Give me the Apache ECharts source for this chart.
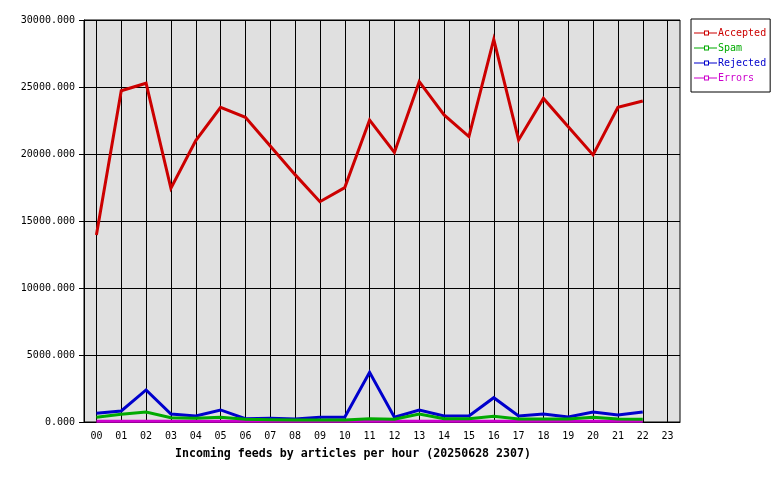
<!DOCTYPE html>
<html>
<head>
<meta charset="utf-8">
<script src="https://cdn.jsdelivr.net/npm/echarts@6/dist/echarts.min.js"></script>
<style>html,body{margin:0;padding:0;background:#fff;}#c{width:780px;height:480px;}</style>
</head>
<body>
<div id="c"></div>
<script>
const hours = ['00','01','02','03','04','05','06','07','08','09','10','11','12','13','14','15','16','17','18','19','20','21','22','23'];
const accepted = [13950,24720,25280,17440,21000,23480,22740,20600,18460,16440,17490,22540,20120,25400,22910,21300,28560,21050,24150,22040,19930,23480,23950];
const spam = [350,570,750,320,275,350,200,160,150,150,150,250,200,600,250,250,420,230,230,230,350,230,200];
const rejected = [650,820,2390,600,450,900,250,280,225,350,350,3710,350,900,450,450,1815,450,600,375,750,520,750];
const errors = [60,60,60,60,60,60,60,60,60,60,60,60,60,60,60,60,60,60,60,60,60,60,60];
const yTicks = [0,5000,10000,15000,20000,25000,30000];
const titleText = 'Incoming feeds by articles per hour (20250628 2307)';

const names = ['Accepted','Spam','Rejected','Errors'];
const colors = ['#cc0000','#00aa00','#0000cc','#cc00cc'];
const datas = [accepted, spam, rejected, errors];
const mono = 'DejaVu Sans Mono';

const legendIcon = 'path://M0,3h10v1h-10z M15,3h8v1h-8z M10,1h5v1h-5z M10,5h5v1h-5z M10,1h1v5h-1z M14,1h1v5h-1z';

const chart = echarts.init(document.getElementById('c'), null, {renderer:'canvas'});
const lineSeries = names.map((n,i) => ({
  name: n, type: 'line', data: datas[i],
  symbol: 'emptyRect', symbolSize: 4, showSymbol: false,
  color: colors[i],
  lineStyle: {color: colors[i], width: 3, join: 'miter', cap: 'butt'},
  itemStyle: {color: colors[i], borderColor: colors[i]},
  z: 10 - i
}));
lineSeries.push({
  name: 'vgrid', type: 'line', data: [], z: 1, silent: true,
  markLine: {
    silent: true, symbol: ['none','none'], animation: false,
    label: {show: false},
    lineStyle: {color: '#000', width: 1, type: 'solid'},
    emphasis: {disabled: true},
    data: hours.map(h => ({xAxis: h}))
  }
});

chart.setOption({
  animation: false,
  backgroundColor: '#ffffff',
  title: {
    text: titleText, left: 170, top: 443,
    textStyle: {fontFamily: mono, fontSize: 11.6, fontWeight: 'bold', color: '#000'}
  },
  legend: {
    orient: 'vertical', left: 691, top: 19,
    padding: [8, 4, 8, 3],
    itemGap: 3,
    itemWidth: 23, itemHeight: 5,
    icon: legendIcon,
    itemStyle: {borderWidth: 0},
    lineStyle: {width: 0},
    backgroundColor: '#ffffff', borderColor: '#000', borderWidth: 1,
    textStyle: {fontFamily: mono, fontSize: 10, padding: [0,0,0,-4], lineHeight: 12},
    data: names.map((n,i) => ({name: n, textStyle: {color: colors[i]}}))
  },
  grid: {left: 84, top: 20, right: 100, bottom: 58, show: true, backgroundColor: '#e0e0e0', borderColor: '#000', borderWidth: 1},
  xAxis: {
    type: 'category', data: hours, boundaryGap: true,
    axisLine: {lineStyle: {color: '#000', width: 1}},
    axisTick: {alignWithLabel: true, length: 5, lineStyle: {color: '#000'}},
    axisLabel: {fontFamily: mono, fontSize: 10, color: '#000', margin: 9, interval: 0},
    splitLine: {show: false}
  },
  yAxis: {
    type: 'value', min: yTicks[0], max: yTicks[yTicks.length-1], interval: yTicks[1]-yTicks[0],
    axisLine: {show: true, lineStyle: {color: '#000'}},
    axisTick: {show: true, length: 5, lineStyle: {color: '#000'}},
    axisLabel: {fontFamily: mono, fontSize: 10, color: '#000', margin: 9, formatter: v => v.toFixed(3)},
    splitLine: {show: true, lineStyle: {color: '#000', width: 1}}
  },
  series: lineSeries
});
</script>
</body>
</html>
